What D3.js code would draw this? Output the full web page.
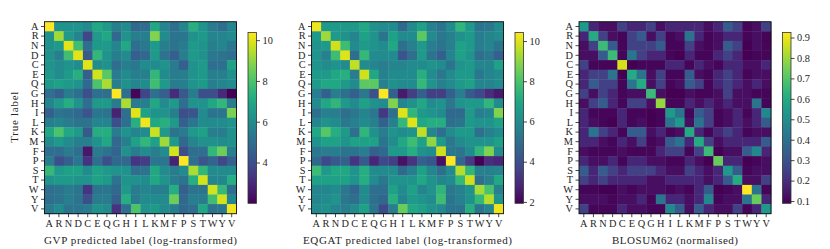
<!DOCTYPE html>
<html lang="en">
<head>
<meta charset="UTF-8">
<title>Substitution heatmaps</title>
<script src="https://cdn.jsdelivr.net/npm/d3@7"></script>
<style>
  body { margin: 0; background: #fff; }
  text { font-family: "Liberation Serif", "DejaVu Serif", serif; fill: #262626; }
  .tick line { stroke: #1a1a1a; stroke-width: 0.8px; }
  .tick text { font-size: 10.3px; }
  .axis-label { font-size: 11px; }
</style>
</head>
<body>
<svg id="fig" width="830" height="249"></svg>
<script>
// amino acid order used on both axes
var aminoAcids = ['A','R','N','D','C','E','Q','G','H','I','L','K','M','F','P','S','T','W','Y','V'];

// GVP predicted label, log-transformed counts (rows = true label)
var gvpRows = [
  [10.38,6.3,6.3,6.3,6.0,7.0,6.5,5.6,6.0,4.8,5.0,7.0,5.8,5.0,5.8,7.3,6.3,5.5,5.0,5.8],
  [6.2,9.2,6.5,5.8,3.8,6.5,7.0,4.8,6.3,5.6,5.6,8.8,6.0,5.2,5.3,6.2,6.5,5.8,5.8,6.0],
  [6.2,6.5,10.0,7.8,5.0,6.5,6.5,5.8,7.0,5.0,5.4,6.5,5.6,5.2,5.5,6.5,6.3,5.6,5.8,5.3],
  [6.2,5.6,7.8,10.0,4.3,7.5,6.3,5.6,6.0,4.5,4.8,6.5,5.2,4.5,5.6,6.5,6.2,5.4,5.2,5.0],
  [6.3,6.0,6.3,6.0,10.0,6.0,6.2,5.0,5.6,5.4,6.0,6.0,6.3,5.5,4.5,6.3,6.5,5.0,5.0,6.8],
  [6.5,6.0,6.5,7.3,4.5,9.8,8.2,5.5,6.0,5.6,5.6,7.5,6.0,5.5,5.6,6.3,6.5,5.6,5.6,6.2],
  [6.5,6.8,6.5,6.3,4.8,8.0,9.3,5.6,6.2,5.8,6.0,7.8,6.5,5.5,5.6,6.3,6.5,5.6,5.8,6.0],
  [5.0,4.5,5.5,5.0,4.0,5.0,5.0,10.38,5.0,2.1,3.8,5.0,4.5,3.0,4.3,5.5,4.0,4.0,3.0,2.0],
  [5.8,6.5,7.2,6.3,5.0,6.5,6.5,5.5,9.3,5.5,5.6,7.0,6.0,6.5,5.0,6.3,6.3,7.0,7.5,5.5],
  [4.5,5.2,5.0,4.8,4.2,5.3,5.2,2.8,5.0,10.0,6.8,6.3,6.3,5.6,4.0,4.2,6.0,5.2,5.2,8.7],
  [5.6,5.8,5.5,5.2,5.2,5.8,5.8,4.0,5.0,7.3,10.2,7.0,7.3,6.5,4.5,5.3,6.0,6.0,6.0,6.3],
  [7.0,8.0,7.0,6.5,4.3,7.2,7.2,5.5,6.3,5.8,6.0,9.7,6.5,5.2,5.5,6.5,6.8,5.6,5.5,6.2],
  [6.0,6.5,6.0,5.6,5.6,6.3,7.0,4.8,5.6,6.8,7.5,6.8,9.2,6.5,4.8,5.8,6.2,6.2,6.0,6.2],
  [5.0,5.0,5.5,5.0,2.5,5.5,5.2,4.7,6.2,5.5,6.0,5.6,6.0,9.8,4.0,5.0,5.0,7.5,8.5,5.6],
  [5.5,4.0,4.5,5.3,3.2,5.0,4.0,4.8,4.8,3.3,3.5,5.3,5.3,2.8,10.38,5.0,4.2,4.7,3.8,4.5],
  [7.6,6.5,6.8,6.8,6.0,6.8,6.5,6.3,6.3,5.0,5.2,7.0,6.0,5.5,6.0,9.3,7.5,6.0,6.0,6.0],
  [6.3,6.5,6.5,6.3,6.3,6.8,6.5,5.2,6.3,6.2,6.0,7.0,6.3,5.6,5.2,7.3,9.8,5.8,5.8,7.2],
  [5.0,5.2,5.5,5.2,3.3,5.2,5.3,4.8,6.5,5.5,5.8,5.6,5.6,7.2,4.5,5.2,5.2,9.8,7.6,5.0],
  [5.0,5.2,5.6,5.2,4.0,5.5,5.5,4.5,7.2,5.5,6.0,6.0,6.0,8.5,4.8,5.6,5.5,7.8,9.8,5.8],
  [5.5,6.0,5.2,5.3,5.5,6.2,6.0,3.2,5.0,8.0,6.3,6.5,6.0,5.6,4.8,5.0,7.0,5.2,5.3,10.2]
];

// EQGAT predicted label, log-transformed counts
var eqgatRows = [
  [10.2,6.5,6.5,6.5,6.5,7.0,6.2,6.0,6.0,4.8,6.0,6.8,5.6,5.2,6.0,7.5,6.5,5.2,5.3,6.0],
  [6.5,9.2,6.5,6.2,5.8,6.8,6.3,5.2,6.8,6.0,6.0,8.3,6.0,5.3,5.6,6.2,6.5,5.5,5.8,6.0],
  [6.3,6.5,9.8,7.8,6.0,6.5,6.3,6.0,7.0,5.0,5.6,6.5,5.5,5.2,5.6,6.8,6.5,5.5,5.8,5.2],
  [6.3,5.6,7.8,10.0,5.0,7.6,6.0,6.0,6.0,4.2,5.0,6.5,5.2,4.5,5.8,6.8,6.3,5.0,5.3,4.5],
  [6.3,6.0,6.3,6.0,9.6,6.0,5.8,5.5,5.8,5.8,6.0,6.0,6.3,6.0,5.2,6.3,6.5,5.8,5.8,6.8],
  [6.5,6.5,7.0,7.3,5.5,9.8,7.0,5.6,6.0,6.0,6.0,7.3,6.0,5.3,6.0,6.5,6.5,5.3,5.8,6.0],
  [6.5,7.0,7.0,6.5,6.0,8.3,8.3,5.6,6.2,6.0,6.0,7.6,6.3,5.6,6.0,6.5,6.8,5.8,5.8,6.0],
  [5.5,4.5,5.5,5.0,4.5,5.3,4.0,10.43,4.5,2.5,3.5,4.5,3.5,3.5,4.5,5.5,4.3,3.8,3.0,2.5],
  [6.0,7.0,7.5,6.5,6.0,6.8,6.2,6.0,8.8,5.8,6.2,7.0,6.0,6.3,5.3,6.3,6.5,6.5,7.5,6.0],
  [5.0,5.6,5.5,5.0,5.3,5.8,5.3,3.3,5.0,10.0,7.5,6.5,6.3,6.0,4.8,4.8,6.5,5.5,5.8,8.8],
  [5.8,6.3,6.0,5.3,5.6,6.0,5.6,4.5,5.6,7.6,10.0,7.0,7.2,7.2,5.0,5.2,6.5,6.3,6.3,6.8],
  [7.0,8.2,7.2,6.5,5.0,7.5,6.2,5.5,6.3,6.0,6.3,9.6,5.8,5.0,6.0,6.5,6.5,5.0,5.6,6.0],
  [6.3,6.8,6.8,6.3,6.8,6.8,6.8,5.2,6.0,7.0,7.8,6.8,9.0,6.5,5.3,6.0,6.3,6.3,6.3,6.8],
  [5.3,5.5,5.5,5.2,5.2,5.5,4.5,4.8,6.5,6.5,7.2,6.2,6.0,9.8,5.3,5.2,6.0,7.5,8.8,6.0],
  [4.8,3.8,4.3,4.5,3.2,4.3,2.8,3.8,3.5,2.3,3.2,4.5,4.2,2.3,10.43,4.7,3.4,1.93,3.0,2.8],
  [7.8,6.5,7.0,7.0,6.3,7.2,6.0,6.0,6.0,4.8,5.5,6.8,5.8,5.0,6.0,9.5,7.5,5.6,5.6,5.8],
  [6.8,6.8,6.8,6.8,6.3,7.2,6.0,5.3,6.3,6.3,6.3,7.0,6.2,5.8,6.0,7.6,9.8,5.0,5.6,7.0],
  [5.8,5.8,6.0,5.3,4.7,6.0,5.0,5.0,6.8,6.0,6.8,5.8,6.3,7.5,5.3,5.6,6.2,9.3,8.0,5.6],
  [5.8,6.0,6.3,5.3,5.0,6.0,5.0,4.7,7.3,5.8,6.5,6.3,6.0,7.8,5.2,5.6,6.2,7.6,9.5,6.2],
  [6.0,6.2,5.8,5.5,6.0,6.8,5.2,3.8,5.5,8.5,7.0,6.8,6.3,6.0,5.2,5.2,7.2,5.2,5.8,10.2]
];

// BLOSUM62 scores in the same order
var blosumScores = [
  [4,-1,-2,-2,0,-1,-1,0,-2,-1,-1,-1,-1,-2,-1,1,0,-3,-2,0],
  [-1,5,0,-2,-3,0,1,-2,0,-3,-2,2,-1,-3,-2,-1,-1,-3,-2,-3],
  [-2,0,6,1,-3,0,0,0,1,-3,-3,0,-2,-3,-2,1,0,-4,-2,-3],
  [-2,-2,1,6,-3,2,0,-1,-1,-3,-4,-1,-3,-3,-1,0,-1,-4,-3,-3],
  [0,-3,-3,-3,9,-4,-3,-3,-3,-1,-1,-3,-1,-2,-3,-1,-1,-2,-2,-1],
  [-1,0,0,2,-4,5,2,-2,0,-3,-3,1,-2,-3,-1,0,-1,-3,-2,-2],
  [-1,1,0,0,-3,2,5,-2,0,-3,-2,1,0,-3,-1,0,-1,-2,-1,-2],
  [0,-2,0,-1,-3,-2,-2,6,-2,-4,-4,-2,-3,-3,-2,0,-2,-2,-3,-3],
  [-2,0,1,-1,-3,0,0,-2,8,-3,-3,-1,-2,-1,-2,-1,-2,-2,2,-3],
  [-1,-3,-3,-3,-1,-3,-3,-4,-3,4,2,-3,1,0,-3,-2,-1,-3,-1,3],
  [-1,-2,-3,-4,-1,-3,-2,-4,-3,2,4,-2,2,0,-3,-2,-1,-2,-1,1],
  [-1,2,0,-1,-3,1,1,-2,-1,-3,-2,5,-1,-3,-1,0,-1,-3,-2,-2],
  [-1,-1,-2,-3,-1,-2,0,-3,-2,1,2,-1,5,0,-2,-1,-1,-1,-1,1],
  [-2,-3,-3,-3,-2,-3,-3,-3,-1,0,0,-3,0,6,-4,-2,-2,1,3,-1],
  [-1,-2,-2,-1,-3,-1,-1,-2,-2,-3,-3,-1,-2,-4,7,-1,-1,-4,-3,-2],
  [1,-1,1,0,-1,0,0,0,-1,-2,-2,0,-1,-2,-1,4,1,-3,-2,-2],
  [0,-1,0,-1,-1,-1,-1,-2,-2,-1,-1,-1,-1,-2,-1,1,5,-2,-2,0],
  [-3,-3,-4,-4,-2,-3,-2,-2,-2,-3,-2,-3,-1,1,-4,-3,-2,11,2,-3],
  [-2,-2,-2,-3,-2,-2,-1,-3,2,-1,-1,-2,-1,3,-3,-2,-2,2,7,-1],
  [0,-3,-3,-3,-1,-2,-2,-3,-3,3,1,-2,1,-1,-2,-2,0,-3,-1,4]
];
// normalised value shown for each score
var blosumLevels = {'-4':0.089,'-3':0.1,'-2':0.12,'-1':0.18,'0':0.25,'1':0.33,'2':0.41,'3':0.48,
                    '4':0.54,'5':0.6,'6':0.66,'7':0.73,'8':0.79,'9':0.87,'11':0.925};
var blosumRows = blosumScores.map(function (r) { return r.map(function (s) { return blosumLevels[s]; }); });

var gvpTicks = [4, 6, 8, 10];
var eqgatTicks = [2, 4, 6, 8, 10];
var blosumTicks = [0.1, 0.2, 0.3, 0.4, 0.5, 0.6, 0.7, 0.8, 0.9];

var panels = [
  {left: 44.5, rows: gvpRows, label: 'GVP predicted label (log-transformed)', labelLen: 193, ticks: gvpTicks, fmt: d3.format('d'), ylabel: true},
  {left: 311.5, rows: eqgatRows, label: 'EQGAT predicted label (log-transformed)', labelLen: 209, ticks: eqgatTicks, fmt: d3.format('d')},
  {left: 579, rows: blosumRows, label: 'BLOSUM62 (normalised)', labelLen: 126, ticks: blosumTicks, fmt: d3.format('.1f')}
];

var plotTop = 21.7, size = 192,
    cbTop = 32.4, cbBottom = 203.3, cbWidth = 8.5, cbGap = 11.5;

var svg = d3.select('#fig');

panels.forEach(function (p, pi) {
  var x = d3.scaleBand().domain(aminoAcids).range([p.left, p.left + size]);
  var y = d3.scaleBand().domain(aminoAcids).range([plotTop, plotTop + size]);
  var flat = d3.merge(p.rows);
  var ext = d3.extent(flat);
  var color = d3.scaleSequential(d3.interpolateViridis).domain(ext);

  var g = svg.append('g');

  // cells
  p.rows.forEach(function (row, ri) {
    g.selectAll(null).data(row).enter().append('rect')
      .attr('x', function (d, ci) { return x(aminoAcids[ci]); })
      .attr('y', y(aminoAcids[ri]))
      .attr('width', x.bandwidth() + 0.4)
      .attr('height', y.bandwidth() + 0.4)
      .attr('fill', function (d) { return color(d); });
  });

  // frame
  g.append('rect').attr('x', p.left).attr('y', plotTop).attr('width', size).attr('height', size)
    .attr('fill', 'none').attr('stroke', '#111').attr('stroke-width', 0.9);

  // axes
  var xa = g.append('g').attr('transform', 'translate(0,' + (plotTop + size) + ')')
    .call(d3.axisBottom(x).tickSize(3.5).tickPadding(2.5));
  xa.select('.domain').remove();
  var ya = g.append('g').attr('transform', 'translate(' + p.left + ',0)')
    .call(d3.axisLeft(y).tickSize(3.5).tickPadding(2.5));
  ya.select('.domain').remove();

  g.append('text').attr('class', 'axis-label')
    .attr('x', p.left + size / 2).attr('y', plotTop + size + 30)
    .attr('text-anchor', 'middle')
    .attr('textLength', p.labelLen).attr('lengthAdjust', 'spacing')
    .text(p.label);

  if (p.ylabel) {
    g.append('text').attr('class', 'axis-label')
      .attr('transform', 'translate(17.5,' + (plotTop + size / 2 - 0.5) + ') rotate(-90)')
      .attr('text-anchor', 'middle')
      .attr('textLength', 51).attr('lengthAdjust', 'spacing')
      .text('True label');
  }

  // colourbar
  var cbx = p.left + size + cbGap;
  var gradId = 'grad' + pi;
  var grad = svg.append('defs').append('linearGradient').attr('id', gradId)
    .attr('x1', 0).attr('y1', 1).attr('x2', 0).attr('y2', 0);
  d3.range(0, 1.0001, 0.05).forEach(function (t) {
    grad.append('stop').attr('offset', t).attr('stop-color', d3.interpolateViridis(t));
  });
  g.append('rect').attr('x', cbx).attr('y', cbTop).attr('width', cbWidth).attr('height', cbBottom - cbTop)
    .attr('fill', 'url(#' + gradId + ')').attr('stroke', '#333').attr('stroke-width', 0.8);
  var cy = d3.scaleLinear().domain(ext).range([cbBottom, cbTop]);
  var ca = g.append('g').attr('transform', 'translate(' + (cbx + cbWidth) + ',0)')
    .call(d3.axisRight(cy).tickValues(p.ticks).tickFormat(p.fmt).tickSize(3.5).tickPadding(2.5));
  ca.select('.domain').remove();
});
</script>
</body>
</html>
